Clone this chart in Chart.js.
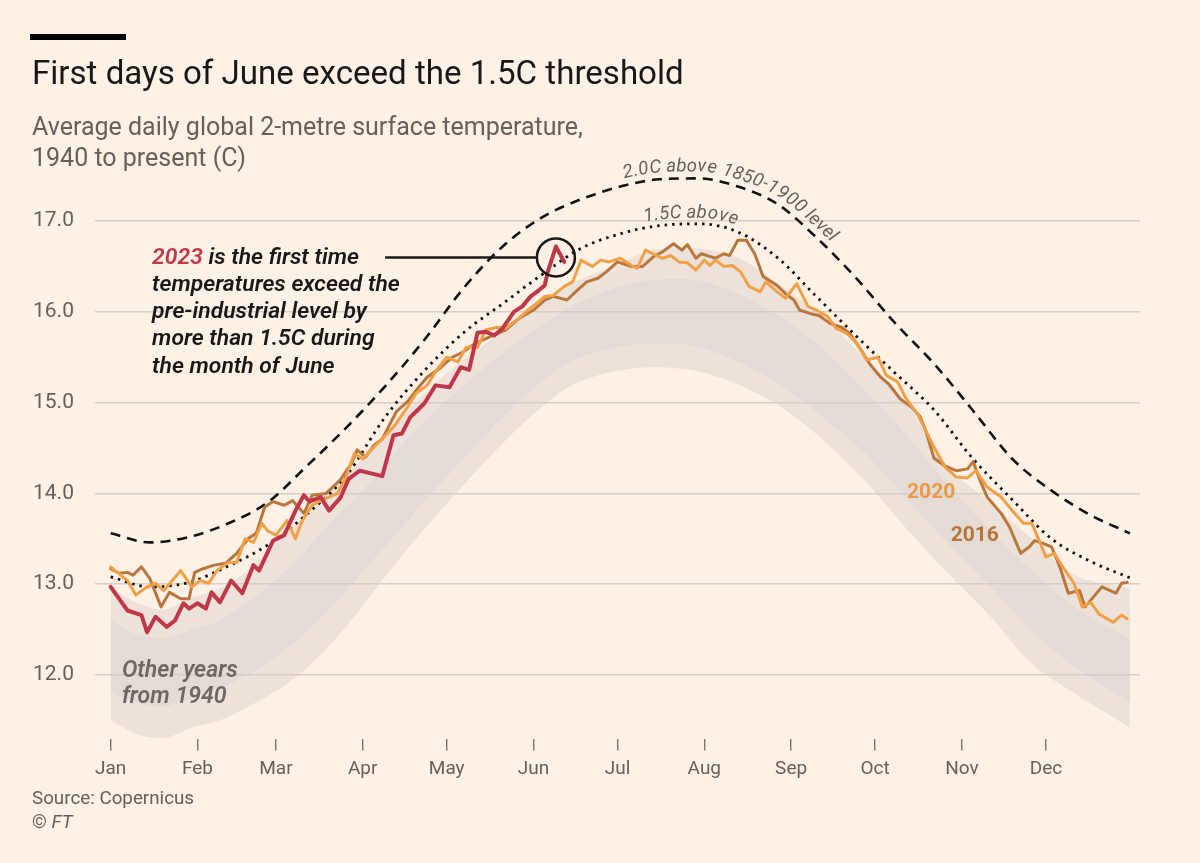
<!DOCTYPE html>
<html>
<head>
<meta charset="utf-8">
<script src="https://cdn.jsdelivr.net/npm/chart.js@4"></script>
<style>
  html, body { margin: 0; padding: 0; background: #fff1e5; }
  #page { position: relative; width: 1200px; height: 863px; overflow: hidden; background: #fff1e5; font-family: Roboto, "Noto Sans", sans-serif; }
  #chartBox { position: absolute; left: 0; top: 0; width: 1200px; height: 863px; }
  .bar { position: absolute; left: 30px; top: 34px; width: 96px; height: 6px; background: #000; }
  #title { position: absolute; left: 32px; top: 53px; font-size: 30px; line-height: 40px; color: #1a1817; white-space: nowrap; }
  #subtitle { position: absolute; left: 32px; top: 111px; font-size: 22px; line-height: 31px; color: #66605c; white-space: nowrap; }
  #source { position: absolute; left: 32px; top: 786px; font-size: 17px; line-height: 24px; color: #66605c; white-space: nowrap; }
</style>
</head>
<body>
<div id="page">
  <div id="chartBox"><canvas id="chart"></canvas></div>
  <div class="bar"></div>
  <div id="title">First days of June exceed the 1.5C threshold</div>
  <div id="subtitle"><span id="sub1">Average daily global 2-metre surface temperature,</span><br>1940 to present (C)</div>
  <div id="source"><span id="src1">Source: Copernicus</span><br>© <i>FT</i></div>
</div>
<script>
// month axis
const monthDays = [1, 32, 60, 91, 121, 152, 182, 213, 244, 274, 305, 335];
const monthNames = ["Jan", "Feb", "Mar", "Apr", "May", "Jun", "Jul", "Aug", "Sep", "Oct", "Nov", "Dec"];
const yTicks = [12, 13, 14, 15, 16, 17];

// 2023 (to mid June)
const days2023 = [1,7,12,14,17,21,24,27,29,32,35,37,40,44,48,52,54,59,63,67,70,72,76,79,83,86,90,94,98,102,105,108,110,113,117,122,126,129,132,135,138,141,145,148,151,154,156,157,160,163];
const temp2023 = [12.97,12.71,12.66,12.47,12.64,12.53,12.60,12.79,12.73,12.79,12.73,12.91,12.80,13.04,12.90,13.21,13.15,13.48,13.54,13.81,13.98,13.91,13.96,13.81,13.95,14.16,14.25,14.22,14.19,14.64,14.66,14.84,14.90,14.99,15.19,15.17,15.39,15.36,15.77,15.78,15.74,15.82,16.00,16.06,16.17,16.24,16.29,16.43,16.72,16.55];

// 2016
const days2016 = [1,4,7,9,12,15,19,22,26,29,31,34,38,42,46,50,53,56,59,63,66,70,73,78,83,87,89,92,95,98,103,107,111,114,119,123,127,131,134,139,142,147,152,156,159,164,167,171,175,178,182,187,191,195,198,202,205,207,210,212,214,217,220,222,225,228,231,234,239,242,245,247,251,254,258,262,265,269,272,276,279,283,287,290,292,295,299,303,307,309,311,314,319,322,326,329,331,334,337,340,343,347,349,352,355,358,360,362,364];
const temp2016 = [13.17,13.12,13.13,13.10,13.19,13.06,12.75,12.91,12.84,12.84,13.13,13.17,13.21,13.23,13.34,13.50,13.56,13.85,13.91,13.87,13.92,13.78,13.98,14.00,14.15,14.33,14.48,14.40,14.53,14.60,14.90,15.01,15.17,15.28,15.39,15.50,15.56,15.65,15.69,15.76,15.80,15.93,16.02,16.13,16.17,16.13,16.22,16.33,16.37,16.44,16.55,16.50,16.50,16.61,16.66,16.75,16.68,16.74,16.59,16.64,16.62,16.59,16.64,16.62,16.79,16.79,16.64,16.39,16.29,16.20,16.13,16.02,15.98,15.96,15.87,15.83,15.76,15.58,15.43,15.28,15.20,15.04,14.95,14.85,14.70,14.39,14.30,14.25,14.27,14.35,14.18,13.96,13.78,13.63,13.34,13.41,13.48,13.45,13.41,13.19,12.90,12.93,12.75,12.86,12.97,12.93,12.90,13.01,13.02];

// 2020
const days2020 = [1,7,10,14,17,20,26,30,33,36,39,43,46,49,52,55,57,60,64,67,69,71,73,76,79,82,85,88,91,95,98,102,107,110,114,117,121,125,128,132,135,139,142,146,150,153,156,159,163,166,169,173,176,179,183,187,189,192,196,198,201,204,207,210,213,215,217,220,223,226,229,233,235,239,242,246,250,253,257,260,264,267,271,275,278,282,285,289,292,295,299,303,307,310,314,319,323,327,330,333,335,338,341,345,348,351,354,359,362,364];
const temp2020 = [13.19,13.04,12.88,12.97,13.01,12.93,13.15,12.97,13.04,13.01,13.15,13.24,13.24,13.50,13.46,13.67,13.59,13.54,13.70,13.50,13.67,13.78,13.87,13.92,13.96,14.00,14.18,14.44,14.38,14.51,14.60,14.73,14.95,15.10,15.19,15.34,15.50,15.45,15.61,15.61,15.80,15.83,15.82,15.91,16.02,16.09,16.17,16.18,16.28,16.33,16.57,16.50,16.57,16.55,16.59,16.51,16.48,16.68,16.62,16.59,16.62,16.55,16.54,16.46,16.57,16.51,16.57,16.50,16.51,16.44,16.28,16.22,16.33,16.22,16.15,16.31,16.06,16.02,15.95,15.82,15.76,15.67,15.47,15.50,15.30,15.23,15.05,14.88,14.70,14.51,14.29,14.18,14.17,14.25,14.07,13.96,13.81,13.67,13.67,13.45,13.30,13.34,13.19,13.01,12.75,12.80,12.67,12.58,12.66,12.62];

// threshold curves
const limitDays = [1,15,29,43,57,71,85,99,113,127,141,155,169,183,197,211,225,239,253,267,281,295,309,323,337,351,365];
const above20 = [13.56,13.46,13.52,13.67,13.90,14.30,14.72,15.18,15.69,16.26,16.72,17.04,17.24,17.38,17.46,17.47,17.38,17.19,16.82,16.38,15.88,15.43,14.91,14.38,14.03,13.76,13.56];
const above15 = [13.08,12.97,13.02,13.20,13.43,13.77,14.19,14.84,15.35,15.77,16.09,16.41,16.70,16.86,16.95,16.97,16.88,16.60,16.17,15.74,15.33,14.92,14.38,13.93,13.50,13.25,13.07];

// other years since 1940: outer range and denser core
const bandDays = [1,10,20,30,40,50,60,70,80,90,100,110,120,135,150,165,180,195,210,225,240,255,270,285,300,315,330,345,365];
const otherMin = [11.50,11.35,11.30,11.42,11.50,11.65,11.82,12.05,12.35,12.72,13.12,13.50,13.85,14.36,14.82,15.18,15.34,15.39,15.35,15.20,14.96,14.60,14.15,13.62,13.12,12.65,12.12,11.80,11.42];
const otherMax = [12.97,12.80,12.72,12.85,12.95,13.15,13.45,13.75,14.05,14.35,14.70,15.00,15.30,15.65,16.00,16.30,16.50,16.68,16.70,16.60,16.30,15.95,15.50,15.00,14.30,13.90,13.50,13.10,12.95];
const coreMin = [11.80,11.70,11.65,11.75,11.85,12.00,12.20,12.45,12.75,13.10,13.45,13.80,14.15,14.65,15.10,15.45,15.60,15.65,15.62,15.45,15.20,14.85,14.45,13.95,13.45,12.98,12.48,12.10,11.70];
const coreMax = [12.60,12.45,12.40,12.50,12.60,12.80,13.05,13.35,13.70,14.00,14.35,14.70,15.00,15.40,15.75,16.05,16.25,16.35,16.35,16.20,15.95,15.60,15.15,14.65,14.10,13.60,13.15,12.75,12.40];

const FONT = 'Roboto, "Noto Sans", sans-serif';
const GREY = "#66605c";

function pts(xs, ys) {
  return xs.map((d, i) => ({ x: d, y: ys[i] }));
}

// fit a text element to the width it has in the original
function fitText(el, target, weight) {
  const c = document.createElement("canvas").getContext("2d");
  const size = parseFloat(getComputedStyle(el).fontSize);
  c.font = (weight || "400") + " " + size + "px " + FONT;
  const w = c.measureText(el.textContent).width;
  return size * target / w;
}

function fitFont(ctx, text, target, style) {
  ctx.font = style + " 20px " + FONT;
  return 20 * target / ctx.measureText(text).width;
}

// sample the drawn (bezier) curve of a dataset into a dense polyline
function curvePath(chart, index) {
  const el = chart.getDatasetMeta(index).data;
  const out = [];
  for (let i = 0; i < el.length - 1; i++) {
    const a = el[i], b = el[i + 1];
    const c1x = a.cp2x ?? a.x, c1y = a.cp2y ?? a.y;
    const c2x = b.cp1x ?? b.x, c2y = b.cp1y ?? b.y;
    for (let k = 0; k < 24; k++) {
      const t = k / 24, u = 1 - t;
      out.push([
        u * u * u * a.x + 3 * u * u * t * c1x + 3 * u * t * t * c2x + t * t * t * b.x,
        u * u * u * a.y + 3 * u * u * t * c1y + 3 * u * t * t * c2y + t * t * t * b.y
      ]);
    }
  }
  const last = el[el.length - 1];
  out.push([last.x, last.y]);
  return out;
}

// write a label along a dataset's curve
function curveText(chart, index, text, startX, gap) {
  const ctx = chart.ctx;
  const p = curvePath(chart, index);
  const yAt = px => {
    for (let i = 0; i < p.length - 1; i++) {
      if (px >= p[i][0] && px <= p[i + 1][0]) {
        const t = (px - p[i][0]) / ((p[i + 1][0] - p[i][0]) || 1);
        return p[i][1] + t * (p[i + 1][1] - p[i][1]);
      }
    }
    return p[p.length - 1][1];
  };
  ctx.textAlign = "center";
  ctx.textBaseline = "alphabetic";
  let cx = startX;
  for (const ch of text) {
    const w = ctx.measureText(ch).width;
    let nx = cx, len = 0;
    while (len < w) {
      const sx = nx + 0.1;
      len += Math.hypot(0.1, yAt(sx) - yAt(nx));
      nx = sx;
    }
    const mx = (cx + nx) / 2;
    const ang = Math.atan2(yAt(mx + 2) - yAt(mx - 2), 4);
    ctx.save();
    ctx.translate(mx, yAt(mx));
    ctx.rotate(ang);
    ctx.fillText(ch, 0, -gap);
    ctx.restore();
    cx = nx;
  }
}

const notes = {
  id: "notes",
  afterDatasetsDraw(chart) {
    const { ctx, scales: { x, y } } = chart;
    ctx.save();

    // threshold labels
    ctx.fillStyle = GREY;
    ctx.font = "italic 400 18.5px " + FONT;
    curveText(chart, 5, "2.0C above 1850-1900 level", x.getPixelForValue(185), 7);
    curveText(chart, 4, "1.5C above", x.getPixelForValue(192), 6);

    // pointer to the 2023 peak
    const cxp = x.getPixelForValue(160), cyp = y.getPixelForValue(16.6);
    ctx.strokeStyle = "#1a1817";
    ctx.lineWidth = 2.5;
    ctx.beginPath();
    ctx.arc(cxp, cyp, 19, 0, Math.PI * 2);
    ctx.stroke();
    ctx.beginPath();
    ctx.moveTo(x.getPixelForValue(99), cyp);
    ctx.lineTo(cxp - 19, cyp);
    ctx.stroke();

    // annotation text
    const size = fitFont(ctx, "temperatures exceed the", 248, "italic 600");
    ctx.font = "italic 600 " + size.toFixed(1) + "px " + FONT;
    ctx.textAlign = "left";
    ctx.textBaseline = "alphabetic";
    const tx = x.getPixelForValue(15.8);
    const ty = y.getPixelForValue(16.53);
    ctx.fillStyle = "#c1374a";
    ctx.fillText("2023", tx, ty);
    const w23 = ctx.measureText("2023").width;
    ctx.fillStyle = "#1a1817";
    ctx.fillText(" is the first time", tx + w23, ty);
    const lines = ["temperatures exceed the", "pre-industrial level by", "more than 1.5C during", "the month of June"];
    lines.forEach((t, i) => ctx.fillText(t, tx, ty + 27.2 * (i + 1)));

    // other years label
    const s2 = fitFont(ctx, "Other years", 116, "italic 600");
    ctx.font = "italic 600 " + s2.toFixed(1) + "px " + FONT;
    ctx.fillStyle = "#6e6863";
    const ox = x.getPixelForValue(5);
    ctx.fillText("Other years", ox, y.getPixelForValue(11.98));
    ctx.fillText("from 1940", ox, y.getPixelForValue(11.69));

    // year labels
    ctx.font = "700 21px " + FONT;
    ctx.fillStyle = "#e99a46";
    ctx.fillText("2020", x.getPixelForValue(285.4), y.getPixelForValue(13.95));
    ctx.fillStyle = "#b5743a";
    ctx.fillText("2016", x.getPixelForValue(301), y.getPixelForValue(13.48));
    ctx.restore();
  }
};

const line = (color, width, extra) => Object.assign({
  borderColor: color, borderWidth: width, pointRadius: 0, fill: false,
  borderJoinStyle: "round", borderCapStyle: "round", tension: 0
}, extra);

const band = (color, extra) => Object.assign({
  borderWidth: 0, borderColor: "rgba(0,0,0,0)", backgroundColor: color,
  pointRadius: 0, tension: 0.3
}, extra);

const datasets = [
  band("rgba(0,0,0,0)", { label: "min", data: pts(bandDays, otherMin), fill: false, order: 9 }),
  band("rgba(210,206,202,0.42)", { label: "max", data: pts(bandDays, otherMax), fill: 0, order: 8 }),
  band("rgba(0,0,0,0)", { label: "cmin", data: pts(bandDays, coreMin), fill: false, order: 7 }),
  band("rgba(200,194,188,0.2)", { label: "cmax", data: pts(bandDays, coreMax), fill: 2, order: 6 }),
  line("#111", 2.8, { label: "1.5C", data: pts(limitDays, above15), borderDash: [2.5, 5], borderCapStyle: "butt", cubicInterpolationMode: "monotone", order: 5 }),
  line("#111", 2.6, { label: "2.0C", data: pts(limitDays, above20), borderDash: [10, 7], borderCapStyle: "butt", cubicInterpolationMode: "monotone", order: 4 }),
  line("#b9773d", 3, { label: "2016", data: pts(days2016, temp2016), order: 3 }),
  line("#f1a048", 3, { label: "2020", data: pts(days2020, temp2020), order: 2 }),
  line("#c1374a", 4, { label: "2023", data: pts(days2023, temp2023), order: 1 })
];

new Chart(document.getElementById("chart").getContext("2d"), {
  type: "line",
  data: { datasets: datasets },
  plugins: [notes],
  options: {
    responsive: true,
    maintainAspectRatio: false,
    animation: false,
    layout: { padding: { left: 33, right: 60, top: 166.6, bottom: 79.5 } },
    plugins: { legend: { display: false }, tooltip: { enabled: false } },
    scales: {
      x: {
        type: "linear",
        min: -4.6,
        max: 368.6,
        afterBuildTicks: s => { s.ticks = monthDays.map(v => ({ value: v })); },
        afterFit: s => { s.height = 45; },
        border: { display: false },
        grid: { drawOnChartArea: false, drawTicks: true, tickLength: 12, color: "#7d7672", lineWidth: 1.4 },
        ticks: {
          autoSkip: false, maxRotation: 0, padding: 7, color: GREY,
          font: { family: FONT, size: 19 },
          callback: (v, i) => monthNames[i]
        }
      },
      y: {
        min: 11.3,
        max: 17.6,
        afterBuildTicks: s => { s.ticks = yTicks.map(v => ({ value: v })); },
        afterFit: s => { s.width = 62; },
        border: { display: false },
        grid: { drawTicks: false, color: "#d8cfc6", lineWidth: 1.4 },
        ticks: {
          crossAlign: "far", padding: 0, color: GREY,
          font: { family: FONT, size: 21 },
          callback: v => v.toFixed(1)
        }
      }
    }
  }
});

const title = document.getElementById("title");
title.style.fontSize = fitText(title, 653).toFixed(1) + "px";
const sub1 = document.getElementById("sub1");
document.getElementById("subtitle").style.fontSize = fitText(sub1, 551).toFixed(1) + "px";
const src1 = document.getElementById("src1");
document.getElementById("source").style.fontSize = fitText(src1, 162).toFixed(1) + "px";
</script>
</body>
</html>
